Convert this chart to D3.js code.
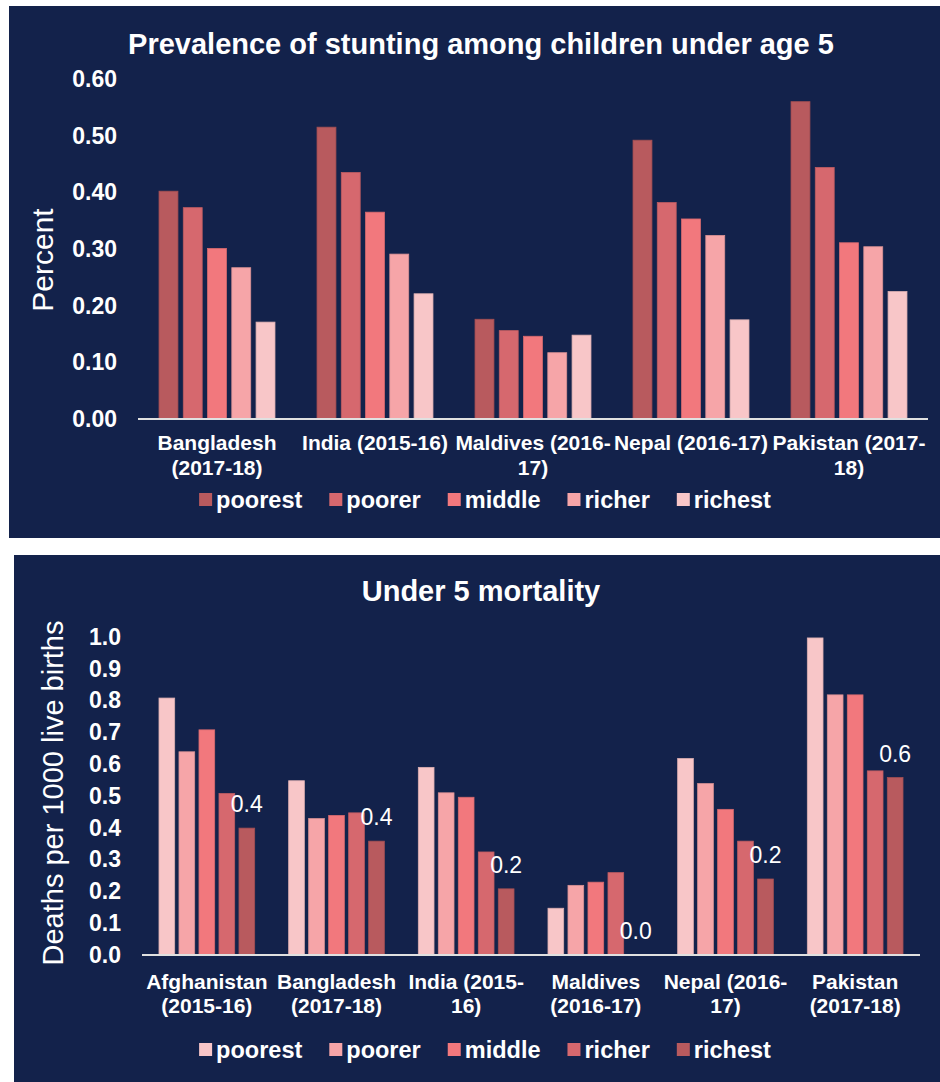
<!DOCTYPE html>
<html>
<head>
<meta charset="utf-8">
<script src="https://cdn.jsdelivr.net/npm/d3@7"></script>
<style>
  html, body { margin: 0; padding: 0; background: #ffffff; }
  svg { display: block; }
  text { font-family: Arial, "Liberation Sans", sans-serif; fill: #ffffff; }
</style>
</head>
<body>
<svg id="chart" width="940" height="1082"></svg>
<script>
// ---------- data ----------
const groups = ["poorest", "poorer", "middle", "richer", "richest"];

// Chart 1: stunting
const stuntCountries = ["Bangladesh (2017-18)", "India (2015-16)", "Maldives (2016-17)", "Nepal (2016-17)", "Pakistan (2017-18)"];
const stuntLabels = [["Bangladesh", "(2017-18)"], ["India (2015-16)"], ["Maldives (2016-", "17)"], ["Nepal (2016-17)"], ["Pakistan (2017-", "18)"]];
const stuntPoorest = [0.402, 0.515, 0.176, 0.492, 0.560];
const stuntPoorer  = [0.373, 0.435, 0.156, 0.382, 0.444];
const stuntMiddle  = [0.301, 0.365, 0.146, 0.353, 0.311];
const stuntRicher  = [0.267, 0.291, 0.117, 0.324, 0.304];
const stuntRichest = [0.171, 0.221, 0.148, 0.175, 0.225];
const stuntTicks = [0, 0.1, 0.2, 0.3, 0.4, 0.5, 0.6];

// Chart 2: under-5 mortality
const mortCountries = ["Afghanistan (2015-16)", "Bangladesh (2017-18)", "India (2015-16)", "Maldives (2016-17)", "Nepal (2016-17)", "Pakistan (2017-18)"];
const mortLabels = [["Afghanistan", "(2015-16)"], ["Bangladesh", "(2017-18)"], ["India (2015-", "16)"], ["Maldives", "(2016-17)"], ["Nepal (2016-", "17)"], ["Pakistan", "(2017-18)"]];
const mortPoorest = [0.808, 0.548, 0.590, 0.147, 0.618, 0.997];
const mortPoorer  = [0.639, 0.429, 0.510, 0.219, 0.539, 0.818];
const mortMiddle  = [0.708, 0.439, 0.496, 0.229, 0.458, 0.818];
const mortRicher  = [0.508, 0.447, 0.324, 0.259, 0.358, 0.579];
const mortRichest = [0.399, 0.358, 0.208, 0.000, 0.239, 0.558];
const mortTicks = [0, 0.1, 0.2, 0.3, 0.4, 0.5, 0.6, 0.7, 0.8, 0.9, 1.0];

// ---------- styles ----------
const BG = "#13224b";
const shadeDarkToLight = ["#b85a5e", "#d6686e", "#f2787d", "#f6a5a8", "#f8c6c8"];

const svg = d3.select("#chart");

function drawChart(cfg) {
  const g = svg.append("g");
  g.append("rect").attr("x", cfg.panel[0]).attr("y", cfg.panel[1])
    .attr("width", cfg.panel[2]).attr("height", cfg.panel[3]).attr("fill", BG);

  g.append("text").attr("x", cfg.titleX).attr("y", cfg.titleY)
    .attr("text-anchor", "middle").attr("font-weight", "bold")
    .attr("font-size", cfg.titleSize).text(cfg.title);

  const y = d3.scaleLinear().domain([0, cfg.yMax]).range(cfg.yRange);
  const x0 = d3.scaleBand().domain(cfg.countries).range(cfg.xRange)
    .paddingInner(cfg.padOuterBand).paddingOuter(cfg.padOuterBand / 2);
  const x1 = d3.scaleBand().domain(groups).range([0, x0.bandwidth()]).paddingInner(cfg.padInnerBand);
  const color = d3.scaleOrdinal().domain(groups).range(cfg.colors);

  // y axis
  const yAxis = d3.axisLeft(y).tickValues(cfg.ticks).tickSize(0).tickPadding(cfg.tickPad)
    .tickFormat(d3.format(cfg.tickFmt));
  const ya = g.append("g").attr("transform", `translate(${cfg.xRange[0]},0)`).call(yAxis);
  ya.select(".domain").remove();
  ya.selectAll("text").attr("fill", "#fff").style("fill", "#fff")
    .attr("font-size", 23).attr("font-weight", "bold")
    .attr("font-family", "Arial, 'Liberation Sans', sans-serif");

  // y label
  g.append("text").attr("transform", `translate(${cfg.yLabelPos[0]},${cfg.yLabelPos[1]}) rotate(-90)`)
    .attr("text-anchor", "middle").attr("font-size", cfg.yLabelSize).text(cfg.yLabel);

  // bars
  const rows = cfg.countries.map((c, i) => ({
    country: c,
    vals: groups.map((k, j) => ({ key: k, value: cfg.series[j][i] }))
  }));
  const cg = g.selectAll(".grp").data(rows).join("g")
    .attr("transform", d => `translate(${x0(d.country)},0)`);
  cg.selectAll("rect").data(d => d.vals).join("rect")
    .attr("x", d => x1(d.key))
    .attr("y", d => y(d.value))
    .attr("width", x1.bandwidth())
    .attr("height", d => y(0) - y(d.value))
    .attr("fill", d => color(d.key))
    .attr("stroke", d => d3.color(color(d.key)).darker(0.35))
    .attr("stroke-width", 0.8);

  // data labels (richest only)
  if (cfg.dataLabels) {
    cg.append("text")
      .attr("x", d => x1("richest") + x1.bandwidth() / 2)
      .attr("y", d => y(d.vals[4].value) - 16)
      .attr("text-anchor", "middle").attr("font-size", 23)
      .text(d => d3.format(".1f")(d.vals[4].value));
  }

  // x axis line
  const xa = d3.axisBottom(x0).tickSize(0).tickFormat("");
  const xg = g.append("g").attr("transform", `translate(0,${y(0)})`).call(xa);
  xg.select(".domain").attr("stroke", "#e0e0e0").attr("stroke-width", 2)
    .attr("d", `M${cfg.xRange[0]},0H${cfg.xRange[1]}`);

  // category labels
  cfg.countries.forEach((c, i) => {
    const t = g.append("text").attr("x", x0(c) + x0.bandwidth() / 2).attr("y", cfg.catY)
      .attr("text-anchor", "middle").attr("font-size", 21).attr("font-weight", "bold");
    cfg.catLabels[i].forEach((line, k) => {
      t.append("tspan").attr("x", x0(c) + x0.bandwidth() / 2).attr("dy", k === 0 ? 0 : cfg.catLine).text(line);
    });
  });

  // legend
  const lg = g.append("g");
  let cx = 0;
  const items = [];
  groups.forEach(k => {
    const it = lg.append("g");
    it.append("rect").attr("x", 0).attr("y", -7).attr("width", 13).attr("height", 13).attr("fill", color(k));
    const tx = it.append("text").attr("x", 17).attr("y", 8).attr("font-size", 23.5).attr("font-weight", "bold").text(k);
    const w = 17 + tx.node().getComputedTextLength();
    items.push({ it, w });
  });
  const gap = 27;
  const total = d3.sum(items, d => d.w) + gap * (items.length - 1);
  cx = cfg.legendCX - total / 2;
  items.forEach(d => { d.it.attr("transform", `translate(${cx},${cfg.legendY})`); cx += d.w + gap; });
}

drawChart({
  panel: [9, 6, 931, 532],
  title: "Prevalence of stunting among children under age 5",
  titleX: 481, titleY: 54, titleSize: 29,
  countries: stuntCountries, catLabels: stuntLabels,
  series: [stuntPoorest, stuntPoorer, stuntMiddle, stuntRicher, stuntRichest],
  colors: shadeDarkToLight,
  yMax: 0.6, yRange: [419, 79], xRange: [138, 928],
  padOuterBand: 0.266, padInnerBand: 0.22,
  ticks: stuntTicks, tickFmt: ".2f", tickPad: 21,
  yLabel: "Percent", yLabelPos: [53, 260], yLabelSize: 30,
  dataLabels: false,
  catY: 450, catLine: 25,
  legendCX: 485, legendY: 500
});

drawChart({
  panel: [14, 555, 926, 527],
  title: "Under 5 mortality",
  titleX: 481, titleY: 601, titleSize: 29,
  countries: mortCountries, catLabels: mortLabels,
  series: [mortPoorest, mortPoorer, mortMiddle, mortRicher, mortRichest],
  colors: shadeDarkToLight.slice().reverse(),
  yMax: 1.0, yRange: [955, 637], xRange: [142, 920],
  padOuterBand: 0.262, padInnerBand: 0.215,
  ticks: mortTicks, tickFmt: ".1f", tickPad: 21,
  yLabel: "Deaths per 1000 live births", yLabelPos: [63, 793], yLabelSize: 29,
  dataLabels: true,
  catY: 989, catLine: 24,
  legendCX: 485, legendY: 1050
});
</script>
</body>
</html>
